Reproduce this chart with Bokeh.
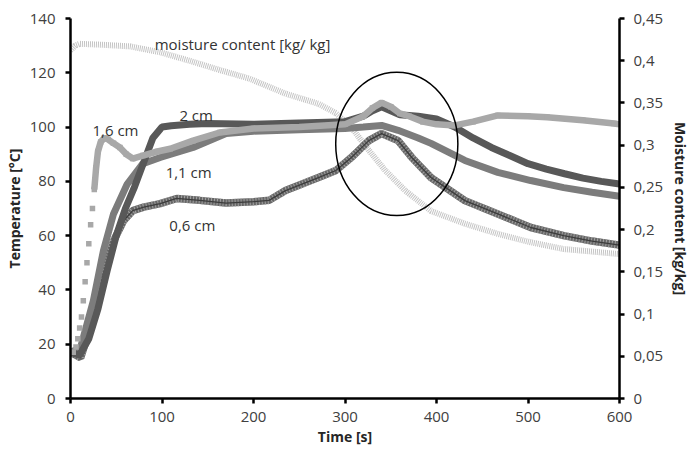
from bokeh.plotting import figure
from bokeh.models import Range1d, LinearAxis, FixedTicker, CustomJSTickFormatter, ColumnDataSource
from bokeh.core.properties import value
from bokeh.embed import file_html
from bokeh.resources import INLINE

# ---------------- data ----------------
t_2cm = [0, 10, 20, 30, 40, 50, 60, 70, 80, 90, 100, 110, 130, 150, 200, 250, 300, 320, 330, 340, 350, 360,
         380, 400, 420, 440, 460, 480, 500, 520, 540, 560, 580, 600]
T_2cm = [17, 16, 22, 33, 47, 60, 70, 78, 87, 96, 100, 100.5, 101, 101.3, 101, 101.5, 102, 104, 106, 107.5, 106,
         104.5, 104, 103, 100, 96, 92.5, 89.5, 86.5, 84.5, 82.8, 81.2, 80, 79]

t_16cm = [0, 3, 6, 8, 10, 12, 14, 16, 18, 20, 22, 24, 26, 28, 30, 33, 37, 41, 47, 54, 61, 68, 79, 95, 109, 134,
          163, 200, 250, 300, 320, 330, 340, 350, 360, 370, 385, 400, 420, 440, 467, 500, 521, 560, 594, 600]
T_16cm = [17, 17, 19, 22, 26, 30, 36, 43, 50, 57, 64, 70, 77, 85, 91, 94.5, 96, 95.5, 94, 92.5, 90, 88.4, 89.5,
          91, 92, 95, 98, 99.5, 100, 101, 104, 107, 109, 107.5, 105, 104, 102, 101, 100.6, 102, 104.3, 104, 103.6,
          102.5, 101.3, 101]
split_16cm = 12   # index from which the 1,6 cm markers merge into a solid band

t_11cm = [0, 11, 25, 36, 47, 62, 79, 98, 134, 170, 200, 250, 300, 320, 340, 358, 380, 394, 431, 467, 503, 539,
          570, 600]
T_11cm = [17, 18.7, 36, 54.5, 68, 79, 86.5, 88.8, 92.5, 97.6, 98.5, 99, 99.5, 100, 100.6, 98.8, 96, 94, 87.7,
          83.3, 80.3, 77.7, 76, 74.5]

t_06cm = [0, 11, 25, 36, 47, 58, 68, 80, 98, 116, 141, 170, 200, 217, 235, 271, 290, 307, 326, 340, 358, 373,
          394, 431, 467, 503, 539, 570, 600]
T_06cm = [17, 15, 29.7, 45.8, 58, 65.5, 69.2, 70.5, 71.8, 73.7, 73, 72, 72.5, 73, 76.6, 81.4, 84, 88.8, 95,
          97.6, 95, 88.8, 81.4, 72.9, 68, 63, 60, 58, 56.5]

t_moist = [0, 5, 10, 33, 65, 98, 130, 163, 195, 235, 271, 290, 307, 326, 344, 366, 394, 431, 467, 503, 539,
           570, 600]
moist = [0.412, 0.418, 0.42, 0.419, 0.417, 0.41, 0.40, 0.389, 0.379, 0.361, 0.349, 0.338, 0.321, 0.294, 0.27,
         0.246, 0.222, 0.207, 0.195, 0.185, 0.177, 0.174, 0.171]

x_ticks = [0, 100, 200, 300, 400, 500, 600]
y_ticks = [0, 20, 40, 60, 80, 100, 120, 140]
m_ticks = [0, 0.05, 0.1, 0.15, 0.2, 0.25, 0.3, 0.35, 0.4, 0.45]

labels_text = ["moisture content [kg/ kg]", "2 cm", "1,6  cm", "1,1  cm", "0,6  cm"]
labels_x = [92, 119, 24, 104, 108]
labels_y = [130.5, 104.6, 98.8, 83.6, 64]

circle_x, circle_y, circle_w, circle_h = 356.6, 93.8, 133.5, 52.8

FONT = "Open Sans"
TXT = "#404040"

# ---------------- figure ----------------
p = figure(width=693, height=450, output_backend="svg", toolbar_location=None,
           x_range=Range1d(0, 600), y_range=Range1d(0, 140),
           min_border_left=70, min_border_right=70, min_border_top=18, min_border_bottom=52)
p.extra_y_ranges = {"m": Range1d(0, 0.45)}
p.outline_line_color = None
p.xgrid.grid_line_color = None
p.ygrid.grid_line_color = None
p.background_fill_color = "white"
p.border_fill_color = "white"

# series
p.line(t_moist, moist, y_range_name="m", line_color="#c4c4c4", line_width=6, line_dash="1 1")
p.line(t_06cm, T_06cm, line_color="#666666", line_width=7.5)
p.line(t_06cm, T_06cm, line_color="#a0a0a0", line_width=7.5, line_dash="1 2")
p.line(t_06cm, T_06cm, line_color="#3c3c3c", line_width=1.3)
p.line(t_11cm, T_11cm, line_color="#7c7c7c", line_width=7)
p.line(t_2cm, T_2cm, line_color="#585858", line_width=7)
p.line(t_16cm[split_16cm:], T_16cm[split_16cm:], line_color="#a8a8a8", line_width=6.5)
p.scatter(t_16cm, T_16cm, marker="square", size=5.5, fill_color="#a8a8a8", line_color=None)

p.ellipse(x=[circle_x], y=[circle_y], width=[circle_w], height=[circle_h],
          fill_color=None, line_color="black", line_width=1.5)

src = ColumnDataSource(dict(x=labels_x, y=labels_y, text=labels_text))
p.text(x="x", y="y", text="text", source=src, text_font=value(FONT), text_font_size="15px",
       text_color="#333333", text_baseline="middle", text_align="left")

# axes
def style(ax):
    ax.axis_line_color = "black"
    ax.axis_line_width = 2.5
    ax.major_tick_line_color = "black"
    ax.major_tick_line_width = 2.5
    ax.major_tick_out = 5
    ax.major_tick_in = 0
    ax.minor_tick_line_color = None
    ax.major_label_text_font = FONT
    ax.major_label_text_font_size = "15px"
    ax.major_label_text_color = TXT
    ax.axis_label_text_font = FONT
    ax.axis_label_text_font_size = "14px"
    ax.axis_label_text_font_style = "bold"
    ax.axis_label_text_color = "#262626"

xa = p.xaxis[0]
style(xa)
xa.ticker = FixedTicker(ticks=x_ticks)
xa.axis_label = "Time [s]"
xa.major_label_standoff = 8
xa.axis_label_standoff = 2

ya = p.yaxis[0]
style(ya)
ya.ticker = FixedTicker(ticks=y_ticks)
ya.axis_label = "Temperature [°C]"
ya.major_label_standoff = 10
ya.axis_label_standoff = 3

ra = LinearAxis(y_range_name="m")
style(ra)
ra.ticker = FixedTicker(ticks=m_ticks)
ra.formatter = CustomJSTickFormatter(code="""
let s = tick.toFixed(2).replace(/0+$/, '').replace(/\\.$/, '');
return s.replace('.', ',');
""")
ra.axis_label = "Moisture content [kg/kg]"
ra.major_label_standoff = 9
ra.axis_label_standoff = 5
p.add_layout(ra, "right")

open("out.html", "w").write(file_html(p, INLINE))
